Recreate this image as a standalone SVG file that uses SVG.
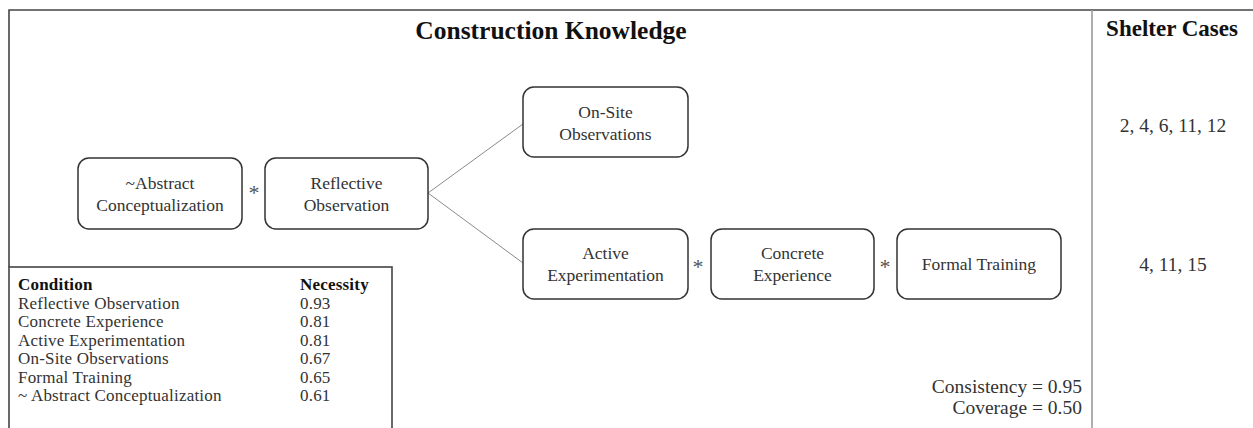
<svg xmlns="http://www.w3.org/2000/svg" width="1253" height="428" viewBox="0 0 1253 428">
  <style>
    .frame { fill: none; stroke: #444; stroke-width: 1.6; }
    .sep { fill: none; stroke: #9a9a9a; stroke-width: 1.6; }
    .box { fill: #fff; stroke: #333; stroke-width: 1.5; }
    .link { fill: none; stroke: #8a8a8a; stroke-width: 1; }
    .t { font-family: "Liberation Serif", "Times New Roman", serif; fill: #333; }
    .node { font-size: 17.5px; text-anchor: middle; }
    .head { font-weight: bold; fill: #111; }
    .tab { font-size: 17px; letter-spacing: 0.2px; }
    .star { font-size: 22px; text-anchor: middle; fill: #555; }
    .num { font-size: 19.5px; }
  </style>

  <!-- outer frame and column separator -->
  <g id="frame">
    <path class="frame" d="M9,267 V10 H1253"/>
    <line class="sep" x1="1092" y1="10" x2="1092" y2="428"/>
  </g>

  <!-- headings -->
  <text class="t head" x="551" y="39" font-size="25.5" text-anchor="middle">Construction Knowledge</text>
  <text class="t head" x="1172" y="36" font-size="23" text-anchor="middle">Shelter Cases</text>

  <!-- connectors -->
  <g id="connectors">
    <line class="link" x1="428" y1="193" x2="523" y2="124"/>
    <line class="link" x1="428" y1="193" x2="523" y2="263"/>
  </g>

  <!-- nodes -->
  <g id="node-abstract">
    <rect class="box" x="78" y="158" width="164" height="71" rx="11"/>
    <text class="t node" x="160" y="189">~Abstract</text>
    <text class="t node" x="160" y="211">Conceptualization</text>
  </g>
  <text class="t star" x="254" y="200">*</text>
  <g id="node-reflective">
    <rect class="box" x="265" y="158" width="163" height="71" rx="11"/>
    <text class="t node" x="346.5" y="189">Reflective</text>
    <text class="t node" x="346.5" y="211">Observation</text>
  </g>
  <g id="node-onsite">
    <rect class="box" x="523" y="87" width="165" height="70" rx="11"/>
    <text class="t node" x="605.5" y="118">On-Site</text>
    <text class="t node" x="605.5" y="140">Observations</text>
  </g>
  <g id="node-active">
    <rect class="box" x="523" y="229" width="165" height="70" rx="11"/>
    <text class="t node" x="605.5" y="259">Active</text>
    <text class="t node" x="605.5" y="281">Experimentation</text>
  </g>
  <text class="t star" x="698" y="274">*</text>
  <g id="node-concrete">
    <rect class="box" x="711" y="229" width="163" height="70" rx="11"/>
    <text class="t node" x="792.5" y="259">Concrete</text>
    <text class="t node" x="792.5" y="281">Experience</text>
  </g>
  <text class="t star" x="885" y="274">*</text>
  <g id="node-formal">
    <rect class="box" x="897" y="229" width="164" height="70" rx="11"/>
    <text class="t node" x="979" y="270">Formal Training</text>
  </g>

  <!-- shelter case lists -->
  <text class="t num" x="1173" y="132" text-anchor="middle">2, 4, 6, 11, 12</text>
  <text class="t num" x="1173" y="271" text-anchor="middle">4, 11, 15</text>

  <!-- necessity table -->
  <g id="necessity-table">
    <rect class="frame" x="9" y="267" width="383" height="180"/>
    <text class="t tab head" x="18" y="290">Condition</text>
    <text class="t tab head" x="300" y="290">Necessity</text>
    <text class="t tab" x="18" y="308.5">Reflective Observation</text>
    <text class="t tab" x="300" y="308.5">0.93</text>
    <text class="t tab" x="18" y="327">Concrete Experience</text>
    <text class="t tab" x="300" y="327">0.81</text>
    <text class="t tab" x="18" y="345.5">Active Experimentation</text>
    <text class="t tab" x="300" y="345.5">0.81</text>
    <text class="t tab" x="18" y="364">On-Site Observations</text>
    <text class="t tab" x="300" y="364">0.67</text>
    <text class="t tab" x="18" y="382.5">Formal Training</text>
    <text class="t tab" x="300" y="382.5">0.65</text>
    <text class="t tab" x="18" y="401">~ Abstract Conceptualization</text>
    <text class="t tab" x="300" y="401">0.61</text>
  </g>

  <!-- fit statistics -->
  <text class="t num" x="1082" y="393" text-anchor="end">Consistency = 0.95</text>
  <text class="t num" x="1082" y="414" text-anchor="end">Coverage = 0.50</text>
</svg>
